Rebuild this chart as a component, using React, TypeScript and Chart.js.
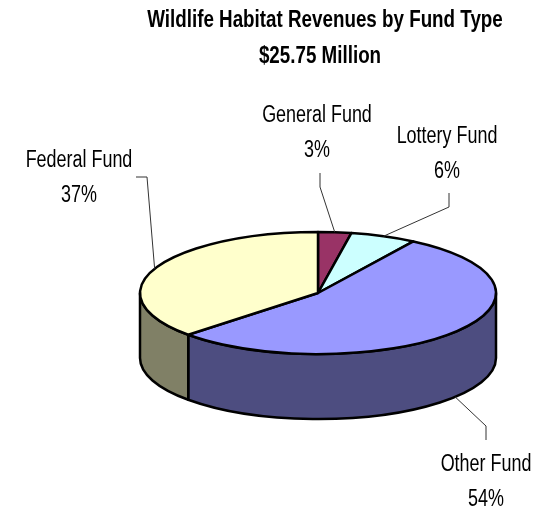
import React, { useEffect, useRef } from "react";
import { Chart, registerables } from "chart.js";

Chart.register(...registerables);

const categories = ["General Fund", "Lottery Fund", "Other Fund", "Federal Fund"];
const shares = [3, 6, 54, 37];
const topColors = ["#993366", "#CCFFFF", "#9999FF", "#FFFFCC"];
const wallColors = ["#4D1A33", "#668080", "#4D4D80", "#808066"];
const titleLines = ["Wildlife Habitat Revenues by Fund Type", "$25.75 Million"];

// label layout: text centre x, first baseline, leader elbow points
const labelLayout = [
  { x: 317, y: 122, leader: [[320, 173], [320, 187]] },
  { x: 447, y: 143, leader: [[449, 193], [449, 207]] },
  { x: 486, y: 471, leader: [[486, 440], [486, 426]] },
  { x: 79, y: 167, leader: [[136, 177], [147, 177]] },
];

const SQUASH = 0.343;
const DEPTH = 65;
const LABEL_SCALE = 0.78;
const TITLE_SCALE = 0.817;

function condensedText(ctx: CanvasRenderingContext2D, text: string, x: number, y: number, sx: number) {
  ctx.save();
  ctx.translate(x, y);
  ctx.scale(sx, 1);
  ctx.textAlign = "center";
  ctx.textBaseline = "alphabetic";
  ctx.fillText(text, 0, 0);
  ctx.restore();
}

const pie3d = {
  id: "pie3d",
  beforeDatasetsDraw(chart: any) {
    const ctx: CanvasRenderingContext2D = chart.ctx;
    const arcs = chart.getDatasetMeta(0).data;
    const { x: cx, y: cy, outerRadius: rx } = arcs[0];
    const ry = rx * SQUASH;
    ctx.save();
    ctx.lineWidth = 2.5;
    ctx.lineJoin = "round";
    ctx.strokeStyle = "#000";

    // side walls: only the part of each slice on the near half of the rim
    arcs.forEach((arc: any, i: number) => {
      const a = Math.max(arc.startAngle, 0);
      const b = Math.min(arc.endAngle, Math.PI);
      if (b <= a) return;
      ctx.beginPath();
      ctx.ellipse(cx, cy, rx, ry, 0, a, b);
      ctx.ellipse(cx, cy + DEPTH, rx, ry, 0, b, a, true);
      ctx.closePath();
      ctx.fillStyle = wallColors[i];
      ctx.fill();
      ctx.stroke();
    });

    // top faces
    arcs.forEach((arc: any) => {
      ctx.beginPath();
      ctx.moveTo(cx, cy);
      ctx.ellipse(cx, cy, rx, ry, 0, arc.startAngle, arc.endAngle);
      ctx.closePath();
      ctx.fillStyle = arc.options.backgroundColor;
      ctx.fill();
      ctx.stroke();
    });

    // leader lines, anchored on the rim at each slice's middle angle
    ctx.lineWidth = 1;
    ctx.strokeStyle = "#333";
    arcs.forEach((arc: any, i: number) => {
      const mid = (arc.startAngle + arc.endAngle) / 2;
      const ax = cx + rx * Math.cos(mid);
      const ay = cy + ry * Math.sin(mid) + (Math.sin(mid) > 0 ? DEPTH : 0);
      ctx.beginPath();
      labelLayout[i].leader.forEach(([px, py], k) => (k ? ctx.lineTo(px, py) : ctx.moveTo(px, py)));
      ctx.lineTo(ax, ay);
      ctx.stroke();
    });

    // data labels
    ctx.fillStyle = "#000";
    ctx.font = '23px "Liberation Sans"';
    categories.forEach((name, i) => {
      const l = labelLayout[i];
      condensedText(ctx, name, l.x, l.y, LABEL_SCALE);
      condensedText(ctx, `${shares[i]}%`, l.x, l.y + 34.5, LABEL_SCALE);
    });

    // title
    ctx.font = 'bold 23px "Liberation Sans"';
    condensedText(ctx, titleLines[0], 325, 27, TITLE_SCALE);
    condensedText(ctx, titleLines[1], 320, 63, TITLE_SCALE);
    ctx.restore();
    return false;
  },
};

export default function App() {
  const ref = useRef<HTMLCanvasElement>(null);
  useEffect(() => {
    const chart = new Chart(ref.current!, {
      type: "pie",
      data: {
        labels: categories,
        datasets: [{ data: shares, backgroundColor: topColors, borderColor: "#000", borderWidth: 2 }],
      },
      options: {
        responsive: false,
        animation: false,
        layout: { padding: { left: 139, right: 47, top: 114, bottom: 34 } },
        plugins: { legend: { display: false }, tooltip: { enabled: false }, title: { display: false } },
      },
      plugins: [pie3d],
    });
    return () => chart.destroy();
  }, []);
  return (
    <canvas
      ref={ref}
      width={544}
      height={506}
      style={{ position: "absolute", left: 0, top: 0, display: "block", background: "#fff" }}
    />
  );
}
